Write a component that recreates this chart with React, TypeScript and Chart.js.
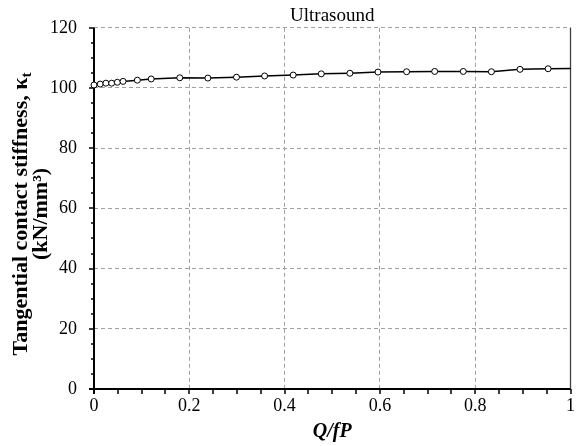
import React, { useEffect, useRef } from "react";
import { Chart, registerables } from "chart.js";

Chart.register(...registerables);

const Q_FP = [0, 0.013, 0.025, 0.037, 0.049, 0.061, 0.091, 0.12, 0.18, 0.239, 0.299, 0.358, 0.418, 0.477, 0.537, 0.596, 0.656, 0.715, 0.775, 0.834, 0.894, 0.953, 1.0];
const KT = [101.0, 101.3, 101.6, 101.6, 101.9, 102.2, 102.6, 103.0, 103.4, 103.3, 103.6, 104.0, 104.3, 104.7, 104.9, 105.3, 105.4, 105.5, 105.5, 105.4, 106.2, 106.4, 106.5];
const X_TICKS = [0, 0.2, 0.4, 0.6, 0.8, 1];
const Y_TICKS = [0, 20, 40, 60, 80, 100, 120];
const TITLE = "Ultrasound";
const X_TITLE = "Q/fP";
const Y_TITLE_MAIN = "Tangential contact stiffness, \u03BA";
const Y_TITLE_SUB = "t";
const Y_TITLE_LINE2 = "(kN/mm\u00B3)";

const FONT = "'Liberation Serif', 'Times New Roman', serif";

const axesPlugin = {
  id: "axesDeco",
  beforeDatasetsDraw(chart: any) {
    const { ctx, chartArea, scales } = chart;
    const { left, right, top, bottom } = chartArea;
    const x = scales.x;
    const y = scales.y;
    ctx.save();
    ctx.strokeStyle = "#404040";
    ctx.lineWidth = 1.3;
    ctx.beginPath();
    ctx.moveTo(right, top);
    ctx.lineTo(right, bottom);
    ctx.stroke();
    ctx.strokeStyle = "#000";
    ctx.lineWidth = 1.5;
    for (let v = 0; v <= 120.001; v += 5) {
      const py = Math.round(y.getPixelForValue(v));
      const len = Math.abs(v % 20) < 0.01 ? 5 : 3;
      ctx.beginPath();
      ctx.moveTo(left - len, py);
      ctx.lineTo(left, py);
      ctx.stroke();
    }
    for (let i = 0; i <= 20; i++) {
      const px = Math.round(x.getPixelForValue(i * 0.05));
      ctx.beginPath();
      ctx.moveTo(px, bottom);
      ctx.lineTo(px, bottom + 5);
      ctx.stroke();
    }
    ctx.lineWidth = 2;
    ctx.beginPath();
    ctx.moveTo(left, top);
    ctx.lineTo(left, bottom + 5);
    ctx.moveTo(left - 5, bottom);
    ctx.lineTo(right, bottom);
    ctx.stroke();
    ctx.restore();
  },
  afterDraw(chart: any) {
    const { ctx, chartArea } = chart;
    const { left, right } = chartArea;
    ctx.save();
    ctx.fillStyle = "#000";
    // chart title centred over plot area
    ctx.font = `normal 19px ${FONT}`;
    ctx.textAlign = "center";
    ctx.textBaseline = "alphabetic";
    ctx.fillText(TITLE, (left + right) / 2, 21);
    // y axis title
    const cy = 214;
    ctx.translate(0, 0);
    ctx.save();
    ctx.translate(27, cy);
    ctx.rotate(-Math.PI / 2);
    const mainFont = `bold 22px ${FONT}`;
    const subFont = `bold 15px ${FONT}`;
    ctx.font = mainFont;
    const w1 = ctx.measureText(Y_TITLE_MAIN).width;
    ctx.font = subFont;
    const ws = ctx.measureText(Y_TITLE_SUB).width;
    const start = -(w1 + ws) / 2;
    ctx.textAlign = "left";
    ctx.font = mainFont;
    ctx.fillText(Y_TITLE_MAIN, start, 0);
    ctx.font = subFont;
    ctx.fillText(Y_TITLE_SUB, start + w1, 4);
    ctx.restore();
    ctx.save();
    ctx.translate(47, cy);
    ctx.rotate(-Math.PI / 2);
    ctx.font = mainFont;
    ctx.textAlign = "center";
    ctx.fillText(Y_TITLE_LINE2, 0, 0);
    ctx.restore();
    ctx.restore();
  },
};

export default function App() {
  const ref = useRef<HTMLCanvasElement | null>(null);
  useEffect(() => {
    if (!ref.current) return;
    const chart = new Chart(ref.current, {
      type: "scatter",
      data: {
        datasets: [
          {
            data: Q_FP.map((q, i) => ({ x: q, y: KT[i] })),
            showLine: true,
            borderColor: "#000",
            borderWidth: 1.5,
            pointRadius: Q_FP.map((q) => (q >= 1 ? 0 : 3)),
            pointBackgroundColor: "#fff",
            pointBorderColor: "#000",
            pointBorderWidth: 1,
            clip: false,
          },
        ],
      },
      options: {
        animation: false,
        responsive: true,
        maintainAspectRatio: false,
        layout: { padding: { left: 0, right: 8, top: 27, bottom: 0 } },
        plugins: {
          legend: { display: false },
          tooltip: { enabled: false },
          title: { display: false },
        },
        scales: {
          x: {
            type: "linear",
            min: 0,
            max: 1,
            afterFit: (s: any) => {
              s.height = 57;
            },
            afterBuildTicks: (s: any) => {
              s.ticks = X_TICKS.map((v) => ({ value: v }));
            },
            ticks: {
              color: "#000",
              font: { family: FONT, size: 18 },
              padding: 6,
              maxRotation: 0,
              callback: (v: any) => String(v),
            },
            grid: { color: "#a0a0a0", lineWidth: 1, drawTicks: false },
            border: { display: false, dash: [4, 3] },
            title: {
              display: true,
              text: X_TITLE,
              color: "#000",
              font: { family: FONT, size: 20, weight: "bold", style: "italic", lineHeight: 1.2 },
              padding: { top: 0, bottom: 2 },
            },
          },
          y: {
            type: "linear",
            min: 0,
            max: 120,
            afterFit: (s: any) => {
              s.width = 94;
            },
            afterBuildTicks: (s: any) => {
              s.ticks = Y_TICKS.map((v) => ({ value: v }));
            },
            ticks: {
              color: "#000",
              font: { family: FONT, size: 18 },
              padding: 17,
            },
            grid: { color: "#a0a0a0", lineWidth: 1, drawTicks: false },
            border: { display: false, dash: [4, 3] },
            title: { display: false },
          },
        },
      },
      plugins: [axesPlugin],
    });
    return () => chart.destroy();
  }, []);
  return (
    <div style={{ position: "fixed", left: 0, top: 0, width: 581, height: 446 }}>
      <canvas ref={ref} />
    </div>
  );
}
